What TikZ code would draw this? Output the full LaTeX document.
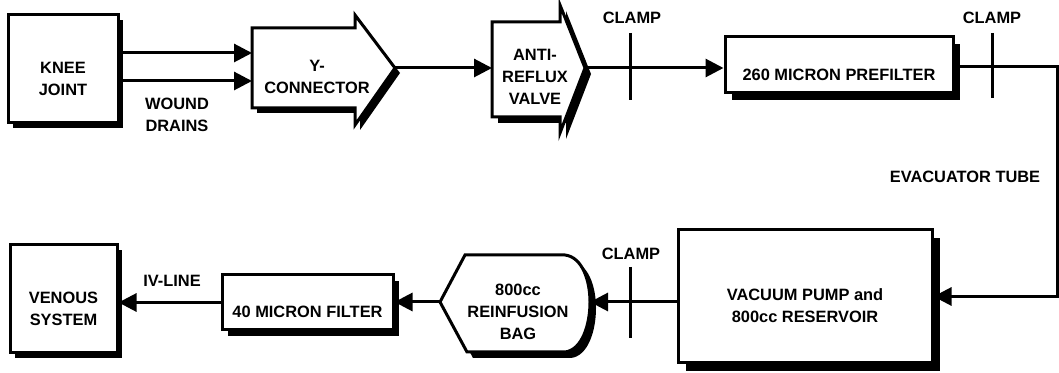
\documentclass[tikz,border=0pt]{standalone}
\usepackage{fontspec}
\setmainfont{Liberation Sans}
\usetikzlibrary{arrows.meta,shadows,calc}

\tikzset{
  lbl/.style={font=\bfseries\fontsize{8.2}{11}\selectfont, align=center, inner sep=0pt},
  boxtext/.style={lbl, yshift=-4.75pt},
  block/.style={draw, line width=1.5pt, fill=white, inner sep=0pt},
  outline/.style={draw, line width=1.5pt, fill=white},
  blackshadow/.style={drop shadow={shadow xshift=#1, shadow yshift=-#1, fill=black, opacity=1}},
  flow/.style={line width=1.5pt, -{Triangle[length=9pt,width=9pt]}},
  bar/.style={line width=1.5pt},
}

\begin{document}
\begin{tikzpicture}[x=0.5pt,y=-0.5pt]
\useasboundingbox (0,0) rectangle (1059,373);

% Top row
\node[block, minimum width=55pt, minimum height=54pt, blackshadow=2.5pt] (knee) at (63,69) {};
\node[boxtext] (kneetxt) at (knee) {KNEE\\JOINT};

\filldraw[outline, blackshadow=2.5pt] (252,28) -- (355,28) -- (355,15) -- (395,68) -- (355,125) -- (355,108) -- (252,108) -- cycle;
\node[lbl] (ycon) at (317,77) {Y-\\CONNECTOR};
\coordinate (yconin1) at (252,53);
\coordinate (yconin2) at (252,81);
\coordinate (ycontip) at (395,68);

\filldraw[outline, blackshadow=3pt] (492,22) -- (560,22) -- (560,5) -- (585,68) -- (560,133) -- (560,117) -- (492,117) -- cycle;
\node[lbl] (valve) at (535,77) {ANTI-\\REFLUX\\VALVE};
\coordinate (valvein) at (492,68);
\coordinate (valvetip) at (585,68);

\node[block, minimum width=114pt, minimum height=28pt, blackshadow=3.5pt] (prefilter) at (839,65) {};
\node[boxtext] (prefiltertxt) at (prefilter) {260 MICRON PREFILTER};

% Bottom row
\node[block, minimum width=127pt, minimum height=66.5pt, blackshadow=4pt] (vacuum) at (805,296.5) {};
\node[boxtext] (vacuumtxt) at (vacuum) {VACUUM PUMP and\\800cc RESERVOIR};

\filldraw[outline, blackshadow=3pt] (440,302) -- (465,255) -- (565,255) .. controls (582,257) and (590,280) .. (590,302) .. controls (590,325) and (582,350) .. (565,352) -- (467,352) -- cycle;
\node[lbl] (bag) at (518,312) {800cc\\REINFUSION\\BAG};
\coordinate (bagin) at (590,302);
\coordinate (bagtip) at (440,302);

\node[block, minimum width=85.5pt, minimum height=27.5pt, blackshadow=3pt] (filter) at (307.5,302.5) {};
\node[boxtext] (filtertxt) at (filter) {40 MICRON FILTER};

\node[block, minimum width=53.5pt, minimum height=54pt, blackshadow=2.5pt] (venous) at (63.5,299) {};
\node[boxtext] (venoustxt) at (venous) {VENOUS\\SYSTEM};

% Connectors
\draw[flow] (knee.east |- yconin1) -- (yconin1);
\draw[flow] (knee.east |- yconin2) -- (yconin2);
\draw[flow] (ycontip) -- (valvein);
\draw[flow] (valvetip) -- (valvetip -| prefilter.west);
\coordinate (bend) at (1057,67);
\draw[flow] (prefilter.east |- bend) -- (bend) |- (vacuum.east);
\draw[flow] (vacuum.west |- bagin) -- (bagin);
\draw[flow] (bagtip) -- (bagtip -| filter.east);
\draw[flow] (filter.west) -- (filter.west -| venous.east);

% Clamps
\node[lbl] (clamp1) at (632,18) {CLAMP};
\draw[bar] (630,33) -- (630,100);
\node[lbl] (clamp2) at (992,18) {CLAMP};
\draw[bar] (992,33) -- (992,98);
\node[lbl] (clamp3) at (631,254) {CLAMP};
\draw[bar] (630,267) -- (630,338);

% Tube labels
\node[lbl] (drains) at (177,115) {WOUND\\DRAINS};
\node[lbl] (evac) at (965,177) {EVACUATOR TUBE};
\node[lbl] (ivline) at (172,281) {IV-LINE};
\end{tikzpicture}
\end{document}
